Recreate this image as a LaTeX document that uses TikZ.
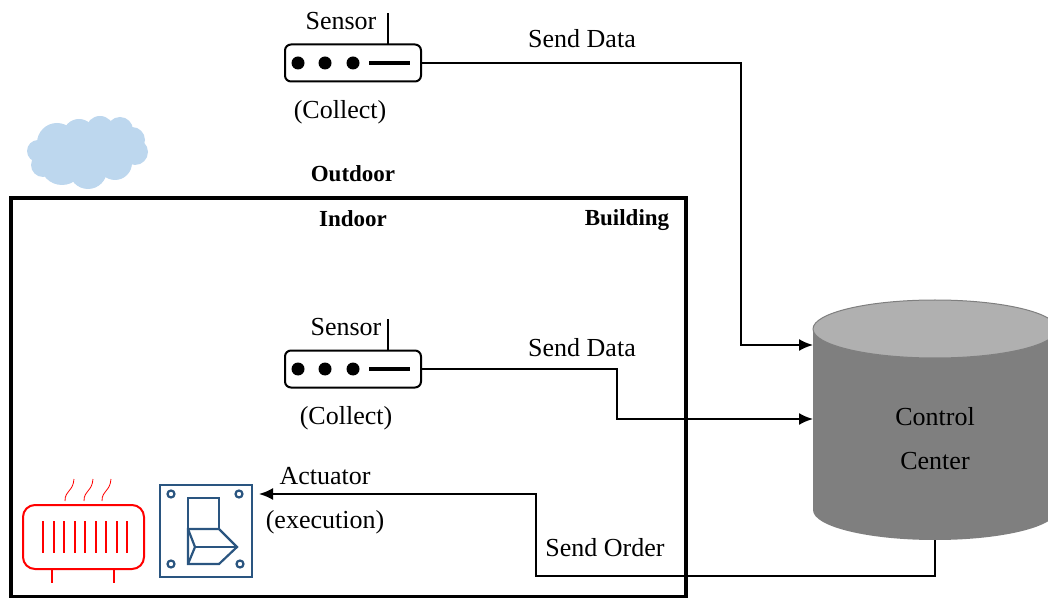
\documentclass[tikz,border=0pt]{standalone}
\usepackage{fontspec}
\setmainfont{Liberation Serif}
\usepackage{tikz}
\usetikzlibrary{arrows.meta}
\definecolor{cloudBlue}{HTML}{BDD7EE}
\definecolor{switchBlue}{HTML}{2A5580}
\definecolor{bodyGray}{HTML}{7F7F7F}
\definecolor{topGray}{HTML}{B0B0B0}
\tikzset{
  sensor/.pic={
    \node[sensorbox] (box) at (0,0) {};
    \foreach \x in {-55,-28,0}
      \fill (\x,0) circle (6.5);
    \draw[line width=2pt] (16,0) -- (57,0);
    \draw[thinline] (35,-19) -- (35,-50);
  },
}
\begin{document}
\begin{tikzpicture}[
  x=0.5pt,
  y=-0.5pt,
  thinline/.style={
    line width=1pt,
  },
  sensorbox/.style={
    draw=black,
    line width=1pt,
    rounded corners=3pt,
    minimum width=68pt,
    minimum height=18.5pt,
    inner sep=0pt,
  },
  wire/.style={
    thinline,
    -{Latex[length=7pt,width=6pt]},
  },
  label/.style={
    font=\fontsize{13}{15}\selectfont,
  },
  place/.style={
    font=\fontsize{11.5}{14}\selectfont\bfseries,
  },
  red line/.style={
    draw=red,
    line width=1pt,
  },
  blue line/.style={
    draw=switchBlue,
    line width=1.1pt,
  },
]
\useasboundingbox (0,0) rectangle (1048,598);
\foreach \x/\y/\r in {38/151/11,57/143/20,79/135/16,100/130/14,120/130/13,132/140/13,135/152/13,115/163/17,88/170/19,62/163/22,43/165/12,88/150/25,112/147/18,70/150/20}
  \fill[cloudBlue] (\x,\y) circle (\r);
\node[draw=black,line width=2pt,minimum width=337.5pt,minimum height=199.5pt,inner sep=0pt] (building) at (348.5,397.5) {};
\node[place] (outdoor) at (353,174) {Outdoor};
\node[place] (indoor) at (353,219) {Indoor};
\node[place] (buildinglabel) at (627,220) {Building};

\pic (top) at (353,63) {sensor};
\pic (mid) at (353,369) {sensor};
\node[label] (topname) at (341,21) {Sensor};
\node[label] (topjob) at (340,112) {(Collect)};
\node[label] (midname) at (346,327) {Sensor};
\node[label] (midjob) at (346,418) {(Collect)};

\fill[bodyGray] (813,329) -- (813,510) arc[start angle=180,end angle=0,x radius=122,y radius=30] -- (1057,329) -- cycle;
\draw[fill=topGray,draw=bodyGray,line width=0.5pt] (935,329) ellipse [x radius=122,y radius=29];
\node[minimum width=122pt,minimum height=120pt,inner sep=0pt] (center) at (935,420) {};
\node[label,align=center] (centername) at (935,439) {Control\\[7pt]Center};

\coordinate (inone) at (813,345);
\coordinate (intwo) at (813,419);
\coordinate (inorder) at (259,494);
\coordinate (turn) at (536,576);

\draw[wire] (topbox.east) -- (741,63) |- (inone);
\draw[wire] (midbox.east) -- (617,369) |- (intwo);
\draw[wire] (center.south) |- (turn) |- (inorder);
\node[label] (dataone) at (582,39) {Send Data};
\node[label] (datatwo) at (582,348) {Send Data};
\node[label] (order) at (605,548) {Send Order};
\node[label] (actuator) at (325,476) {Actuator};
\node[label] (execution) at (325,522) {(execution)};

\node[draw=switchBlue,line width=1pt,minimum width=46pt,minimum height=46pt,inner sep=0pt] (switch) at (206,531) {};
\foreach \x/\y in {171/494,239/494,171/564,240/564}
  \draw[blue line] (\x,\y) circle (3.5);
\draw[blue line] (188,529) -- (188,498) -- (219,498) -- (219,529);
\draw[blue line] (188,529) -- (219,529) -- (237,547) -- (219,564) -- (188,564) -- cycle;
\draw[blue line] (188,529) -- (195,547) -- (188,564);
\draw[blue line] (195,547) -- (237,547);

\node[red line,rounded corners=6pt,minimum width=60.5pt,minimum height=32pt,inner sep=0pt] (heater) at (83.5,537) {};
\foreach \x in {0,...,8}
  \draw[red line] (43+10.5*\x,521) -- (43+10.5*\x,553);
\foreach \x in {52,114}
  \draw[red line] (\x,569) -- (\x,583);
\foreach \x in {65,84,102}
  \draw[draw=red,line width=0.4pt] (\x,501) .. controls (\x,490) and (\x+8,492) .. (\x+9,479);
\end{tikzpicture}
\end{document}
